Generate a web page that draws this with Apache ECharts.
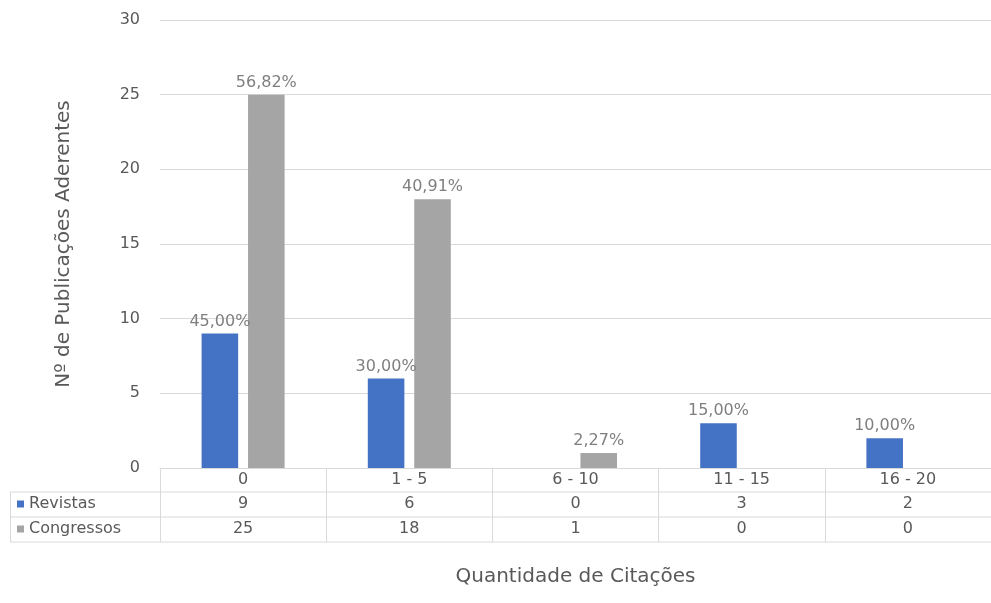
<!DOCTYPE html>
<html>
<head>
<meta charset="utf-8">
<script src="https://cdn.jsdelivr.net/npm/echarts@6/dist/echarts.min.js"></script>
<style>
  html, body { margin: 0; padding: 0; background: #fff; }
  #chart { width: 991px; height: 603px; }
</style>
</head>
<body>
<div id="chart"></div>
<script>
// Citation ranges and publication counts per venue type
const categories = ['0', '1 - 5', '6 - 10', '11 - 15', '16 - 20'];
const revistas = [9, 6, 0, 3, 2];
const congressos = [25, 18, 1, 0, 0];
const yTicks = { min: 0, max: 30, interval: 5 };

const FONT = 'DejaVu Sans';
const TEXT = '#595959';
const LINE = '#d9d9d9';

// share of each count within its series, written with a decimal comma
function pctLabels(values) {
  const total = values.reduce((a, b) => a + b, 0);
  return values.map(v => v === 0 ? '' : (v / total * 100).toFixed(2).replace('.', ',') + '%');
}
const revistasPct = pctLabels(revistas);
const congressosPct = pctLabels(congressos);

const chart = echarts.init(document.getElementById('chart'), null, { renderer: 'canvas' });

const gridLeft = 160, gridTop = 20, gridBottom = 135;
const rowH = 25;

function tableRowAxis(values, offset) {
  return {
    type: 'category', gridIndex: 0, position: 'bottom', offset: offset,
    data: values.map(String),
    axisLine: { show: false }, axisTick: { show: false },
    axisLabel: { color: TEXT, fontFamily: FONT, fontSize: 16, margin: 4, interval: 0 }
  };
}

function legendRow(name, top) {
  return {
    data: [name], left: 17, top: top, orient: 'vertical', padding: 0,
    icon: 'rect', itemWidth: 7, itemHeight: 7,
    textStyle: { color: TEXT, fontFamily: FONT, fontSize: 16 }
  };
}

const option = {
  animation: false,
  textStyle: { fontFamily: FONT },
  grid: { left: gridLeft, right: 0, top: gridTop, bottom: gridBottom },
  legend: [legendRow('Revistas', 496), legendRow('Congressos', 521)],
  xAxis: [
    {
      type: 'category', data: categories, position: 'bottom',
      name: 'Quantidade de Citações', nameLocation: 'middle', nameGap: 99,
      nameTextStyle: { color: TEXT, fontFamily: FONT, fontSize: 20 },
      axisLine: { show: true, lineStyle: { color: LINE } },
      axisTick: { show: true, length: rowH * 3 - 1, lineStyle: { color: LINE } },
      axisLabel: { color: TEXT, fontFamily: FONT, fontSize: 16, margin: 4, interval: 0 }
    },
    tableRowAxis(revistas, rowH - 1),
    tableRowAxis(congressos, rowH * 2 - 1)
  ],
  yAxis: {
    type: 'value', min: yTicks.min, max: yTicks.max, interval: yTicks.interval,
    name: 'Nº de Publicações Aderentes', nameLocation: 'middle', nameGap: 86,
    nameTextStyle: { color: TEXT, fontFamily: FONT, fontSize: 20 },
    axisLine: { show: false }, axisTick: { show: false },
    axisLabel: { color: TEXT, fontFamily: FONT, fontSize: 16, margin: 20 },
    splitLine: { lineStyle: { color: LINE } }
  },
  series: [
    {
      name: 'Revistas', type: 'bar', data: revistas,
      barWidth: '22%', barGap: '27%',
      itemStyle: { color: '#4472C4' },
      label: {
        show: true, position: 'top', distance: 4,
        color: '#7f7f7f', fontFamily: FONT, fontSize: 16,
        formatter: p => revistasPct[p.dataIndex]
      }
    },
    {
      name: 'Congressos', type: 'bar', data: congressos,
      barWidth: '22%', barGap: '27%',
      itemStyle: { color: '#A5A5A5' },
      label: {
        show: true, position: 'top', distance: 4,
        color: '#7f7f7f', fontFamily: FONT, fontSize: 16,
        formatter: p => congressosPct[p.dataIndex]
      }
    }
  ]
};

chart.setOption(option);

// table borders under the plot, anchored to the axis baseline
const baseY = chart.convertToPixel({ yAxisIndex: 0 }, 0);
const rightX = 991;
const lineStyle = { stroke: LINE, lineWidth: 1 };
const rows = [1, 2, 3].map(i => ({
  type: 'line', silent: true,
  shape: { x1: 10, y1: baseY + rowH * i - 1, x2: rightX, y2: baseY + rowH * i - 1 },
  style: lineStyle
}));
chart.setOption({
  graphic: rows.concat([
    {
      type: 'line', silent: true,
      shape: { x1: 10.5, y1: baseY + rowH - 1, x2: 10.5, y2: baseY + rowH * 3 - 1 },
      style: lineStyle
    }
  ])
});
</script>
</body>
</html>
